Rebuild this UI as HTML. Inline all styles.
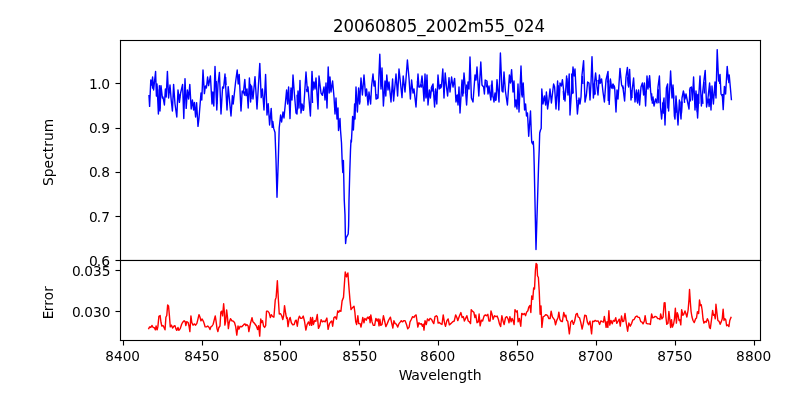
<!DOCTYPE html>
<html lang="en"><head><meta charset="utf-8"><title>20060805_2002m55_024</title>
<style>
html,body{margin:0;padding:0;background:#fff;}
body{width:800px;height:400px;overflow:hidden;}
svg{display:block;}
text{font-family:"DejaVu Sans","Liberation Sans",sans-serif;fill:#000;}
</style></head><body>
<svg width="800" height="400" viewBox="0 0 800 400">
<rect width="800" height="400" fill="#fff"/>
<clipPath id="c1"><rect x="120" y="40" width="640" height="220"/></clipPath>
<clipPath id="c2"><rect x="120" y="260" width="640" height="80"/></clipPath>
<g clip-path="url(#c1)"><polyline points="149,95.6 149.6,106.4 150.8,80 151.6,85 152.6,77 153.6,90 155.6,71.4 156.4,96 157,84 158.4,114 159.4,85.6 160,111 161,85.6 162.4,98 163,97 164.4,105 165.4,89 166.2,97 167.4,71.4 168.6,98 170,85 171.2,100 172.4,111 173.6,84.4 175,104 176.8,117 178,90 179.4,102.4 180.6,93 182.6,84.4 183.8,118.6 185,78.6 186.2,108.4 187.4,90 188.6,99 189.8,84.4 191.2,109 192.4,100 193.6,110 194.4,102.4 195.6,117 196.6,102.6 198,126.4 199,118 201,93 201.8,100 203,70 204.4,93.6 205.4,86 206.4,88 207.6,77 208.6,85.6 210.4,76 212,104 212.8,92 213.8,106 215,66.4 216.8,110 218,84 219.4,72.4 221,114 222.6,87 223.6,88 225,74 227,110 228.2,86.6 231,116 232.4,95.6 233.2,104 235.6,82 237.2,70 238.2,84 239.2,74.4 241,111 242.2,91 243.4,93 244.8,79.4 246,95.6 247,89 248.2,108 249.4,78 250.6,102 251.6,86 253,99 255,76.6 257,109 258.4,86 259.8,63.4 261.2,97.6 262.4,89 264,110 265.6,74.4 267,115 268.2,103.6 269.6,125 271.2,108.4 272.2,127.4 272.8,121.4 273.7,128.4 275,132.5 276,160 277,197.3 278.3,160 279.2,128 280.6,115 281.6,122 283,112 284,118 286.6,90 287.6,104 288.6,87 290,118.6 291,88 292,100 293,75 294.4,94 296,113 297,114 298,91 299,108 300,80.4 301,113 302,104 303.6,110 306,72 307.4,91 308,87 310.4,116 312,71.4 313,90 314,82 315,89 316,78 318,109 319,76 321,93 322.4,95 324,87 325,100 326,83 327,108 328.2,67 329.2,93 330,77 331,92 332.6,81 334,97 335,114 336,98 337,119 338,108 338.5,130.5 340,118.5 340.5,130 341.5,143 342.2,162 342.8,172.5 343.4,160.5 344.25,200 345,215 345.35,235 345.6,243.5 346.2,237.5 346.7,236.8 348.2,234 348.6,226 348.8,215 349,200 349.75,172.5 350.5,150 351,140 351.4,142 352,130 352.6,116.5 353.4,130 354,119 354.6,104 355,119 356,87 357.4,112 358.6,88 359.6,104 361,78 362.4,95 364,75 365.6,96 366.6,89 368,105 369,92 370.6,104 371.6,86 373,74 374,86 375,81 376,99 378,98 379.8,54.2 381,89 382,68 383.4,106 385,81 385.8,96 386.8,75 388,90 389,82 391,102 392.6,79 393.6,101 396,74 397.6,96 399,69 400.6,84 402,97.6 403.2,76 405,92 407.4,60 409,78 410.4,99 411.6,80 413,93 414,89 416,107 418,74 419,87 420,87 421,84 422,76 423,86 424,101 425,74 426,98 427,75 428,105 429.4,90 430.4,98 431.6,87 433,84 434.6,107 435.6,89 436.8,104 438,75 439.2,89 440.4,85 441.4,87 442.8,69 444,98 445.2,73 446.4,86 447.6,96 449,77.6 450,92 451.6,77 453,87 454.6,78.4 456,102 457.2,95 458,105 459,87 460,113 462,80 462.8,96 464,73 465.4,89 466.6,105 468,82 469,89 470,57 471.4,98 473,102 475,75 476,80 477,67 478.8,96 480.8,62 482,85 483.6,87 484.4,94 485.2,80 487,81 488,94 489,86 490.8,100 492,81 493,96 494,102 495,93 496,100 497,79.6 499,102 500.4,53 502,91 503,92 504,72 505.4,91 507.4,105 509.4,75 510.4,83 511.6,69.6 513,92 514,81 515,107 516,100 517,109 518,84 519,112 521,66 522.2,97 523.2,83 524.6,110 525.6,104 526.5,116 527.5,113 528.7,136.2 530.5,111 531.2,130 531.7,142 532.6,144 533.3,141.5 533.8,150 534.2,165 536,249.5 538.6,165 539.2,150 539.7,133 540.5,130 541.2,128.5 541.5,110 541.8,89 543,104 544.4,96 545.6,105 546.4,92 547.6,109 549,99 550,89 551.4,103 553.6,84 554.6,87 556,109 557.6,81 558.8,110 560,83 561.4,86 562.4,79.6 563.6,90 565,101 566.6,76 568,95 569.2,74 570,115 571.4,93 573,67 574,76 575,69 576.4,97 577.4,114 579,98 580,104 581,97 582,75 583.6,60.6 585,102 586.4,95 587.6,82 589,83 590,100 591,83 592,56.6 593.4,98 594.6,82 595.6,73 597,87 598,95 599.4,75 600.4,83 601.6,79 603,92 604.4,102 606,80 608,71.4 609.2,104.4 610.4,79 611.6,88 613,84 614.6,87 616,112 617,90 618,99 620,68.4 621.6,85 623,88 624.6,101 626,77 627.4,67.4 628.6,87 629.6,69.4 631,100 632.4,88 633.6,78 635,102 636.4,90 637.6,103 638.6,90 639.6,105 641,87 642.4,83 643.6,95 644.4,83 645.6,106 647,76 648,89 649.6,75.6 650.6,91 651.6,100 653,97 654,106 655.6,99 657,103 658,87 659.4,76 660.6,108 661.6,119 662.6,108 664,98 665,125 666.4,88 667.6,84 668.6,111 670.6,71 672,98 673,85 674.4,116 675,119 676,96 678,125 679.4,100 681,119 682,98 683.4,91 685,99 686,94 688,104 689,109 690,88 691.4,87 692.4,100 693.6,77 695,110 696,91 697.6,118 699,92 700,76 701.4,106 702.6,93 704,80 705.2,70.4 706.6,107 708,98 709.6,83 711,110 712,86 713.4,104 715,82 716,98 717.2,49.6 718.6,81 720,74.4 721,94 722.4,96.4 723.2,109.6 724.4,86.4 725.6,94 727.2,66.4 728.4,80 729.2,75 730.4,88 731.4,99.6" fill="none" stroke="#0000ff" stroke-width="1.41" stroke-linejoin="round" stroke-linecap="square"/></g>
<path clip-path="url(#c1)" d="M151.91,82.75 L152.69,88.75 M156.69,86.25 L157.11,96.25 M159.24,89.40 L159.96,108.60 M165.62,90.65 L165.98,95.85 M178.91,94.00 L179.69,98.00 M212.71,94.60 L213.49,103.40 M216.23,80.90 L216.77,104.10 M225.62,77.00 L225.98,85.00 M238.11,75.90 L238.89,83.10 M243.81,91.45 L244.50,95.05 L245.19,91.45 M250.37,83.90 L251.03,99.10 M261.56,90.70 L262.04,96.30 M287.17,92.55 L287.83,100.95 M291.03,90.00 L291.57,98.00 M297.06,94.80 L297.60,109.20 L298.14,94.80 M302.72,105.60 L303.20,110.40 L303.68,105.60 M306.52,88.85 L307.00,91.65 L307.48,88.85 M312.09,86.10 L312.51,102.90 M321.91,93.75 L322.69,95.75 M325.18,90.00 L326.02,98.00 M329.44,80.30 L330.16,90.70 M354.78,106.10 L355.62,110.90 M359.23,91.40 L359.77,102.60 M366.16,91.00 L366.64,95.00 M374.44,81.95 L375.16,85.55 M376.65,94.05 L377.55,98.45 M380.71,75.40 L381.49,86.60 M417.44,81.25 L418.16,87.25 M421.14,84.35 L421.80,87.15 L422.46,84.35 M425.60,80.10 L426.20,96.90 L426.80,80.10 M431.41,87.45 L432.10,91.05 L432.79,87.45 M435.44,90.95 L436.16,98.55 M440.06,84.45 L440.60,88.05 L441.14,84.45 M456.65,95.00 L457.55,99.00 M462.78,82.85 L463.62,93.65 M466.44,84.55 L467.16,92.95 M485.65,81.70 L486.55,87.30 M488.56,87.25 L489.04,93.25 M491.30,84.60 L491.90,97.40 M494.93,94.25 L495.50,100.25 L496.07,94.25 M510.44,76.25 L511.16,82.25 M513.30,83.35 L513.90,90.15 M516.26,100.45 L516.80,104.05 L517.34,100.45 M521.32,85.65 L521.80,94.85 L522.28,85.65 M546.44,95.05 L547.16,103.45 M558.30,85.15 L558.90,102.35 M563.30,90.65 L563.90,99.85 M566.90,78.30 L567.50,92.70 M571.62,73.50 L572.14,93.50 L572.66,73.50 L573.18,93.50 M578.06,100.00 L578.60,104.00 L579.14,100.00 M582.30,76.00 L582.90,84.00 M593.37,83.40 L593.99,94.60 L594.61,83.40 L595.23,94.60 M597.98,79.95 L598.66,83.55 L599.34,79.95 L600.02,83.55 M607.35,80.40 L608.10,83.60 L608.85,80.40 M607.89,76.10 L608.31,100.90 M612.28,84.95 L613.00,88.55 L613.72,84.95 M622.65,85.45 L623.55,89.05 M627.58,77.10 L628.42,85.90 M631.56,90.00 L632.04,98.00 M636.67,92.60 L637.30,101.40 L637.93,92.60 M643.30,85.55 L643.90,93.95 M649.30,78.20 L649.90,87.80 M651.58,93.30 L652.42,103.70 M658.30,89.25 L658.90,103.25 M662.67,102.35 L663.30,113.15 L663.93,102.35 M667.30,88.50 L667.90,108.50 M673.23,87.85 L673.77,98.65 M676.23,99.20 L676.77,112.80 M680.93,101.45 L681.50,113.05 L682.07,101.45 M683.84,93.65 L684.56,102.85 M689.58,89.50 L690.42,101.50 M696.79,94.20 L697.30,111.80 L697.81,94.20 M702.30,94.65 L702.90,103.85 M695.76,93.30 L696.24,107.70 M698.30,93.75 L698.90,103.75 M703.96,81.95 L704.44,93.55 M708.35,98.50 L709.10,106.50 L709.85,98.50 M709.84,85.80 L710.56,96.20 M715.09,84.85 L715.51,95.65 M719.23,76.45 L719.77,84.05 M722.41,94.04 L723.10,95.96 L723.79,94.04 M728.30,75.90 L728.90,83.10" fill="none" stroke="#0000ff" stroke-width="1.41" stroke-linejoin="round" stroke-linecap="butt"/>
<g fill="#000"><rect x="119.945" y="39.944" width="641.111" height="1.111"/><rect x="119.945" y="259.945" width="641.111" height="1.111"/><rect x="119.945" y="39.944" width="1.111" height="221.111"/><rect x="759.944" y="39.944" width="1.111" height="221.111"/><rect x="115.500" y="82.945" width="5.000" height="1.111"/><rect x="115.500" y="127.945" width="5.000" height="1.111"/><rect x="115.500" y="171.945" width="5.000" height="1.111"/><rect x="115.500" y="215.945" width="5.000" height="1.111"/><rect x="115.500" y="259.945" width="5.000" height="1.111"/></g>
<rect x="120" y="260" width="640" height="80" fill="#fff"/>
<g clip-path="url(#c2)"><polyline points="148.75,328.63 149.63,326.88 150.85,327.4 151.9,325.48 153.13,327.4 154.35,327.75 155.4,329.85 156.1,326 157.15,329.85 157.85,326.88 158.9,316.38 160.13,315.5 161,322.5 161.88,326 163.1,325.65 164.15,327.75 165.03,329.85 165.9,317.25 166.78,315.5 167.65,305 168.53,305.88 169.4,315.5 170.28,326.88 171.5,325.13 172.55,328.1 174.13,326 175,325.65 175.88,328.63 176.75,330.38 177.98,327.4 178.85,330.38 180.25,328.63 181.65,324.25 182.53,322.5 184.1,320.75 185.15,321.63 185.85,325.65 186.73,321.63 188.13,322.5 189,326 189.88,331.6 190.93,315.85 191.8,322.5 193.03,325.13 194.25,323.9 195.65,325.13 196.88,323.38 197.75,319.88 198.98,314.63 200.03,317.25 200.9,320.75 202.13,319 203.53,321.63 204.4,324.25 205.1,326.88 206.5,326.88 207.73,326 209.13,327.4 210,329.5 210.88,326.88 212.1,326 213.15,324.25 214.03,320.75 215.25,315.85 216.13,321.63 217,328.63 217.88,331.6 218.75,327.75 219.98,326 220.85,312 221.9,311.13 222.6,315.85 223.65,303.78 224.35,312 224.88,325.13 225.75,320.75 226.63,309.9 227.5,317.25 228.38,328.63 229.25,322.5 230.48,318.65 231.88,320.75 233.1,321.1 234.5,322.5 235.73,326.88 236.78,335.1 238,326 238.88,329.15 240.11,326.35 241.51,326.88 242.91,325.65 244.13,324.25 245.01,323.9 245.88,325.65 246.76,324.6 248.16,326 248.86,331.6 250.26,324.25 252.01,317.6 252.88,321.63 253.76,322.5 255.16,324.25 256.38,326 257.61,329.5 258.66,325.65 259.71,336.15 260.76,319 261.63,322.5 262.51,320.75 263.56,326 264.61,327.4 265.66,325.65 266.53,311.13 267.76,311.13 269.16,312.88 270.38,317.6 271.26,314.63 272.48,316.38 273.88,317.25 274.38,311.38 275.25,300 276.13,297.38 277.35,280.75 278.4,300 279.28,314 280.5,313.65 281.73,315.75 282.78,319.6 283.65,315.75 284.53,305.6 285.75,314 286.63,318.38 287.15,317.5 288.03,326.6 289.25,319.25 290.13,317.5 291.35,322.75 292.75,324.85 294.15,324.5 295.38,320.65 296.25,320.13 297.3,326.25 298.35,319.25 299.4,316.1 300.63,318.38 301.85,318.38 303.25,316.1 304.48,321 305.88,330.1 307.1,324.5 308.5,321.88 309.73,325.38 310.6,317.5 311.65,325.38 312.53,317.5 313.4,324.5 314.63,320.65 315.85,321.35 317.25,314.53 318.48,328.35 319.88,325.38 321.1,319.6 322.5,321.88 323.9,321 325.13,321.88 326.88,318.03 328.1,329.4 329.5,323.63 330.73,321.88 331.78,321 332.65,326.25 333.88,317.85 335.1,316.63 336.5,319.25 337.73,310.85 338.78,312.25 339.65,310.5 340.88,311.38 342.1,300.88 343.5,297.38 344.38,284.25 345.25,272 346.48,276.9 347.88,272.88 349.1,289.5 349.98,300 351.03,309.63 352.25,307.88 354,306.13 354.88,312.25 355.75,321.88 356.63,324.5 357.85,315.75 358.73,323.63 360.13,323.63 361,327.13 361.88,322.75 362.75,317.5 363.98,322.75 364.85,318.38 366.25,320.13 367.48,317.15 368.53,318.38 369.4,316.63 370.11,322.75 370.81,314.88 372.03,321.88 373.26,325.38 374.66,325.38 375.88,318.38 377.11,321 378.16,318.9 379.03,325.9 379.91,319.25 380.78,325.38 382.01,324.5 383.41,315.75 384.63,321 385.86,326.6 387.26,323.63 388.66,320.13 390.41,317.15 391.63,322.75 392.86,328 393.91,320.65 395.13,323.63 396.36,324.15 397.76,327.13 398.98,323.63 400.38,321.88 401.26,320.65 402.48,321.88 403.88,320.65 405.11,320.65 406.51,324.5 407.73,328.88 409.13,327.13 410.01,321.88 411.38,319.25 412.6,316.63 414,317.5 414.88,315.75 416.1,314.88 416.98,321 417.85,327.13 418.9,322.75 420.13,324.15 421.35,323.63 422.4,326.25 423.28,324.15 423.98,330.1 425.03,320.65 426.25,324.5 427.48,318.9 428.88,320.65 430.1,318.38 431.5,319.25 432.73,321.88 433.78,323.63 435,316.63 436.4,315.75 437.28,316.63 438.15,323.1 439.38,322.4 440.6,323.63 442,324.5 443.23,314.88 444.63,323.63 445.5,326.25 446.9,320.65 448.13,318.9 449.35,324.85 450.75,323.63 452.5,321.88 454.25,321 455.65,314.88 456.88,317.5 457.75,320.65 459.5,315.75 460.9,312.6 462.13,317.5 463.35,316.63 464.4,321 465.63,318.38 466.85,315.75 468.25,321 469.48,321.88 470.53,323.63 471.23,309.63 472.63,311.38 473.85,312.25 474.9,317.5 475.78,314.88 477,322.75 478.23,321.88 479.1,314 480.15,325.9 481.38,320.13 482.6,321 484,316.1 485.4,314.88 486.63,315.75 487.85,314.35 488.9,321 490.13,321 491,310.85 492.23,314.88 493.1,319.25 494.5,315.75 495.9,316.63 497.13,316.1 498.35,319.25 499.4,323.63 500.63,326.6 501.86,315.75 503.26,321.88 504.13,324.5 505.53,317.5 506.76,316.63 508.16,319.25 509.03,322.75 509.91,316.63 511.13,321.88 512.01,318.38 513.23,321 514.11,324.5 514.98,309.63 516.38,311.9 517.26,310.85 518.13,321.88 519.36,318.38 520.76,326.25 521.75,313.38 523.15,314.6 524.38,313.38 525.6,315.65 526.65,312.15 527.88,310.75 528.75,307.25 529.98,305.5 530.85,312.5 531.73,295.88 532.78,299.38 533.65,288 534.53,288.88 535.4,270.5 536.1,263.5 536.98,264.38 537.5,275.75 538.38,277.5 539.25,291.5 540.13,314.25 541,305.85 541.88,327.38 543.1,316.88 544.5,316 545.9,314.6 547.65,315.65 548.88,318.63 550.1,318.63 551.15,311.1 552.38,316.88 553.6,318.63 554.48,319.5 555.53,324.75 556.75,320.38 557.98,317.75 558.85,312.15 559.9,319.5 561.13,321.25 562.35,321.6 563.75,312.5 564.98,316.88 565.85,315.13 566.73,320.38 567.78,321.25 569.35,333.85 570.75,322.13 572.15,320.38 573.38,324.4 574.6,321.25 576,314.25 577.23,313.38 578.1,316.88 579.5,317.75 580.73,322.13 582.13,329.13 583.35,323.35 584.75,315.13 586.15,315.65 587.38,322.13 588.6,324.75 590,321.25 591.58,333.85 592.63,321.25 593.85,321.6 595.25,320.38 596.65,321.25 598.23,320.9 599.63,324.4 600.85,320.9 602.25,321.6 603.48,322.13 604.35,316.35 605.23,321.25 606.1,327.38 606.98,321.6 607.85,327.38 608.9,310.75 609.78,325.1 611,320.38 612.23,323.88 613.28,320.38 614.5,321.25 615.73,317.75 616.78,323.35 618,321.25 619.23,319.15 620.28,326.15 621.51,316 622.73,321.6 623.78,321.25 625.01,313.38 626.23,323 627.63,331.23 628.86,323 630.26,326.15 631.66,323.35 632.88,319.85 634.11,319.5 635.51,316.88 636.91,316 638.13,317.4 639.36,317.4 640.76,321.6 641.98,322.13 643.03,323.88 644.26,321.25 645.13,315.65 646.36,323.35 647.76,323.88 649.16,323.88 650.38,324.4 651.61,313.9 652.66,317.75 653.88,317.4 655.11,316.35 656.51,316.88 657.73,318.63 659.13,318.63 660.01,319.5 660.65,313.85 661.88,318.75 663.1,317 664.15,303 665.03,302.65 665.9,317 666.78,324.35 668,323.13 668.88,311.4 669.75,318.75 670.63,327.5 671.5,319.63 672.38,327.15 673.6,324 674.48,318.75 675.35,308.25 676.4,323.13 677.28,312.63 678.15,315.25 679.03,320.5 679.9,319.63 680.78,324.88 681.65,309.65 682.88,315.25 683.75,314.38 684.98,310.88 685.85,313.5 686.9,317 688.13,310 689,299.5 689.53,289.53 690.4,303 691.1,311.75 691.98,317 693.03,320.5 694.25,322.6 695.65,318.75 696.53,317.88 697.4,311.75 698.63,313.5 699.5,300.03 700.38,305.63 701.25,304.75 702.13,310 703,318.75 703.88,323.13 705.1,321.38 706.15,322.25 707.38,318.75 708.6,321.38 709.48,327.5 710.35,328.38 711.4,320.5 712.63,310.35 713.5,315.25 714.38,314.38 715.25,318.75 715.95,304.23 717,313.5 717.88,320.5 719.1,321.38 720.15,324.35 721.38,321.38 722.25,318.75 723.13,309.13 724,320.5 724.88,318.75 725.75,319.63 726.63,325.75 727.85,324.88 728.9,326.63 729.78,320.5 731,317.35" fill="none" stroke="#ff0000" stroke-width="1.41" stroke-linejoin="round" stroke-linecap="square"/></g>
<g fill="#000"><rect x="119.945" y="259.945" width="641.111" height="1.111"/><rect x="119.945" y="339.945" width="641.111" height="1.111"/><rect x="119.945" y="259.945" width="1.111" height="81.111"/><rect x="759.944" y="259.945" width="1.111" height="81.111"/><rect x="115.500" y="269.945" width="5.000" height="1.111"/><rect x="115.500" y="310.945" width="5.000" height="1.111"/><rect x="122.945" y="340.500" width="1.111" height="5.000"/><rect x="201.945" y="340.500" width="1.111" height="5.000"/><rect x="279.945" y="340.500" width="1.111" height="5.000"/><rect x="358.945" y="340.500" width="1.111" height="5.000"/><rect x="437.945" y="340.500" width="1.111" height="5.000"/><rect x="516.944" y="340.500" width="1.111" height="5.000"/><rect x="595.944" y="340.500" width="1.111" height="5.000"/><rect x="674.944" y="340.500" width="1.111" height="5.000"/><rect x="753.944" y="340.500" width="1.111" height="5.000"/></g>
<text transform="translate(122.640,360.500) scale(0.9800,1.0200)" font-size="13.890" text-anchor="middle">8400</text>
<text transform="translate(201.765,360.500) scale(0.9900,1.0200)" font-size="13.890" text-anchor="middle">8450</text>
<text transform="translate(280.390,360.500) scale(0.9900,1.0200)" font-size="13.890" text-anchor="middle">8500</text>
<text transform="translate(359.765,360.500) scale(0.9900,1.0100)" font-size="13.890" text-anchor="middle">8550</text>
<text transform="translate(437.640,360.500) scale(0.9900,1.0100)" font-size="13.890" text-anchor="middle" dx="0 0.25 0 0">8600</text>
<text transform="translate(516.765,360.500) scale(1.0000,1.0400)" font-size="13.890" text-anchor="middle">8650</text>
<text transform="translate(595.390,360.500) scale(0.9900,1.0200)" font-size="13.890" text-anchor="middle">8700</text>
<text transform="translate(674.765,360.500) scale(0.9900,1.0100)" font-size="13.890" text-anchor="middle">8750</text>
<text transform="translate(753.640,360.500) scale(0.9900,1.0100)" font-size="13.890" text-anchor="middle" dx="0 0.25 0 0">8800</text>
<text transform="translate(110.000,88.700) scale(1.0000,1.0100)" font-size="13.890" text-anchor="end" dx="0 -0.5 -0.5">1.0</text>
<text transform="translate(110.000,133.200) scale(0.9900,1.0300)" font-size="13.890" text-anchor="end" dx="0 -0.75 0">0.9</text>
<text transform="translate(110.000,177.200) scale(0.9900,0.9800)" font-size="13.890" text-anchor="end" dx="0 -0.75 0">0.8</text>
<text transform="translate(110.000,221.700) scale(0.9900,0.9800)" font-size="13.890" text-anchor="end" dx="0 -0.75 0">0.7</text>
<text transform="translate(110.000,265.700) scale(1.0000,0.9800)" font-size="13.890" text-anchor="end" dx="0 -1 0">0.6</text>
<text transform="translate(110.500,275.700) scale(0.9900,0.9800)" font-size="13.890" text-anchor="end" dx="0 -0.75 0 0 0">0.035</text>
<text transform="translate(110.500,316.700) scale(0.9900,0.9800)" font-size="13.890" text-anchor="end" dx="0 -0.75 0 0 0">0.030</text>
<text transform="translate(439.000,31.500) scale(0.9950,1.0700)" font-size="16.670" text-anchor="middle" dx="0 0 -0.125 0 0 0 0 0 0 0 0 0 0 0 0 0 0 0 0 0">20060805_2002m55_024</text>
<text transform="translate(440.150,380.000) scale(1.0125,1.0200)" font-size="13.890" text-anchor="middle" dx="0 -0.5 0 0 0 -0.25 0.125 0 0 0">Wavelength</text>
<text transform="translate(53.000,152.375) rotate(-90) scale(1.0000,1.0200)" font-size="13.890" text-anchor="middle" dx="0 0 0 0.125 0 0 0 0">Spectrum</text>
<text transform="translate(53.000,302.750) rotate(-90) scale(0.9800,1.0200)" font-size="13.890" text-anchor="middle" dx="0 -0.5 0 0.375 0">Error</text>
</svg></body></html>
